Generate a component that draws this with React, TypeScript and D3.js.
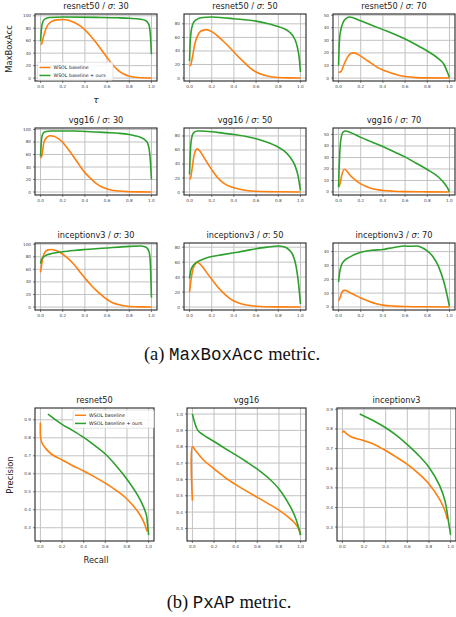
import React from "react";
import * as d3 from "d3";

type P = [number, number];

// ---- MaxBoxAcc data (tau, acc) ----
const r50_30_base: P[] = [[0,54],[0.01,55],[0.02,62],[0.05,80],[0.1,91],[0.15,93.5],[0.2,94],[0.25,93],[0.3,89.5],[0.35,84.5],[0.4,77.5],[0.45,68],[0.5,57],[0.55,45],[0.6,33],[0.65,21.5],[0.7,12.5],[0.75,6.5],[0.8,3],[0.85,1.2],[0.9,0.5],[1,0.2]];
const r50_30_ours: P[] = [[0,59],[0.005,72],[0.01,82],[0.02,90],[0.04,95],[0.08,97.3],[0.2,98],[0.5,97.5],[0.7,96.8],[0.8,96],[0.9,94.5],[0.95,92],[0.97,88],[0.98,84],[0.99,70],[1,38]];
const r50_50_base: P[] = [[0,18],[0.01,19],[0.02,26],[0.05,52],[0.08,65],[0.1,69],[0.15,71.5],[0.2,68.5],[0.25,62.5],[0.3,55],[0.35,47],[0.4,38.5],[0.45,30],[0.5,22],[0.55,14.5],[0.6,9],[0.65,5.5],[0.7,3],[0.8,0.8],[0.9,0.3],[1,0.2]];
const r50_50_ours: P[] = [[0,25],[0.005,50],[0.01,62],[0.02,74],[0.04,83],[0.07,87],[0.1,89],[0.2,90],[0.3,89],[0.4,87.5],[0.5,86],[0.6,84],[0.7,80.5],[0.8,76],[0.85,73],[0.9,68],[0.95,57],[0.97,47],[0.99,28],[1,9]];
const r50_70_base: P[] = [[0,4.5],[0.02,5],[0.05,11],[0.08,16.5],[0.11,19.5],[0.13,20],[0.16,19.5],[0.2,17.5],[0.25,14.5],[0.3,11.5],[0.35,8.5],[0.4,6.5],[0.45,4.8],[0.5,3.3],[0.55,2],[0.6,1.2],[0.7,0.4],[0.8,0.2],[1,0.1]];
const r50_70_ours: P[] = [[0,10],[0.005,25],[0.01,32],[0.02,38],[0.04,44],[0.07,47.5],[0.1,48.5],[0.13,48],[0.2,45.5],[0.3,42],[0.4,38.5],[0.5,35],[0.6,31],[0.7,26.5],[0.8,21.5],[0.9,15.5],[0.95,11],[0.98,5],[1,0.5]];
const vgg_30_base: P[] = [[0,54],[0.01,57],[0.03,79],[0.06,88],[0.09,90],[0.12,89],[0.15,86.5],[0.2,79.5],[0.25,68],[0.3,56],[0.35,43],[0.4,31],[0.45,22],[0.5,14],[0.55,8.5],[0.6,5],[0.7,1.5],[0.8,0.5],[0.9,0.2],[1,0.1]];
const vgg_30_ours: P[] = [[0,57],[0.005,75],[0.01,86],[0.02,93],[0.04,96.5],[0.1,97.5],[0.3,97.5],[0.5,96],[0.6,95],[0.7,94],[0.8,92],[0.85,90],[0.9,87.5],[0.95,82],[0.97,76],[0.98,68],[0.99,50],[1,20]];
const vgg_50_base: P[] = [[0,18],[0.01,20],[0.02,30],[0.04,52],[0.06,60.5],[0.07,61.5],[0.09,59],[0.12,52],[0.15,44],[0.2,32],[0.25,21],[0.3,13.5],[0.35,9],[0.4,6],[0.5,2.5],[0.6,1],[0.8,0.3],[1,0.1]];
const vgg_50_ours: P[] = [[0,25],[0.005,50],[0.01,65],[0.02,78],[0.04,85],[0.07,87],[0.1,87],[0.2,86],[0.3,84],[0.4,82],[0.5,79.5],[0.6,76],[0.7,71],[0.8,64],[0.85,59],[0.9,51],[0.95,38],[0.98,22],[1,2]];
const vgg_70_base: P[] = [[0,4.5],[0.01,6],[0.03,15],[0.05,19.5],[0.06,19.5],[0.08,17.5],[0.1,15],[0.15,10.5],[0.2,7],[0.25,4.8],[0.3,3],[0.35,2],[0.4,1.2],[0.5,0.6],[0.6,0.3],[0.8,0.1],[1,0]];
const vgg_70_ours: P[] = [[0,4],[0.005,20],[0.01,32],[0.02,45],[0.04,52],[0.06,53],[0.1,52],[0.2,47.5],[0.3,43.5],[0.4,39.5],[0.5,35],[0.6,30.5],[0.7,25],[0.8,19.5],[0.9,13],[0.95,8],[0.98,4],[1,0.3]];
const inc_30_base: P[] = [[0,55],[0.01,68],[0.03,84],[0.06,90.5],[0.1,91.5],[0.15,89],[0.2,84],[0.25,77],[0.3,68],[0.35,57],[0.4,46],[0.45,36],[0.5,27],[0.55,19],[0.6,12],[0.65,7],[0.7,4],[0.75,2],[0.8,1],[0.9,0.3],[1,0.2]];
const inc_30_ours: P[] = [[0,69],[0.01,76],[0.03,80],[0.06,83],[0.1,85],[0.2,88],[0.3,90],[0.4,91.5],[0.5,92.8],[0.6,94],[0.7,95.3],[0.8,96.5],[0.9,97],[0.94,96],[0.96,94],[0.98,87],[0.99,70],[1,15]];
const inc_50_base: P[] = [[0,20],[0.01,33],[0.03,50],[0.05,57],[0.07,59.5],[0.09,58],[0.12,53],[0.15,47],[0.2,37],[0.25,27.5],[0.3,19.5],[0.35,13],[0.4,8],[0.45,5],[0.5,3],[0.6,1],[0.7,0.4],[0.8,0.2],[1,0.1]];
const inc_50_ours: P[] = [[0,38],[0.01,48],[0.03,55],[0.06,59.5],[0.1,62.5],[0.15,65.5],[0.2,67.5],[0.3,70],[0.4,72.5],[0.5,75],[0.6,78],[0.7,80],[0.8,81.5],[0.85,80.5],[0.9,76],[0.93,70],[0.96,55],[0.98,35],[1,4]];
const inc_70_base: P[] = [[0,4.5],[0.01,6],[0.03,10.5],[0.05,12],[0.07,11.8],[0.1,10.5],[0.15,8.5],[0.2,6.5],[0.25,4.8],[0.3,3.3],[0.35,2.2],[0.4,1.3],[0.5,0.6],[0.6,0.3],[0.8,0.1],[1,0]];
const inc_70_ours: P[] = [[0,18],[0.01,25],[0.03,31],[0.06,34],[0.1,36],[0.15,38],[0.2,39.5],[0.3,41],[0.4,41.5],[0.45,42.3],[0.5,43],[0.6,44],[0.65,43.8],[0.7,44],[0.75,43],[0.8,40.5],[0.85,36.5],[0.9,29.5],[0.95,18],[0.98,8],[1,0.5]];

// ---- PxAP data (recall, precision) ----
const px_r50_base: P[] = [[0,0.885],[0,0.82],[0.005,0.79],[0.02,0.765],[0.05,0.74],[0.1,0.71],[0.2,0.677],[0.3,0.645],[0.4,0.615],[0.5,0.583],[0.6,0.548],[0.7,0.508],[0.8,0.46],[0.9,0.39],[0.95,0.34],[0.975,0.3],[0.985,0.28]];
const px_r50_ours: P[] = [[0.07,0.932],[0.2,0.875],[0.3,0.84],[0.4,0.802],[0.5,0.758],[0.6,0.71],[0.7,0.645],[0.8,0.57],[0.9,0.48],[0.95,0.42],[0.98,0.37],[0.99,0.32],[1.0,0.26]];
const px_vgg_base: P[] = [[0,0.47],[0,0.8],[0.03,0.775],[0.1,0.72],[0.2,0.665],[0.3,0.612],[0.4,0.568],[0.5,0.528],[0.6,0.49],[0.7,0.452],[0.8,0.412],[0.9,0.362],[0.95,0.33],[0.98,0.3],[1.0,0.26]];
const px_vgg_ours: P[] = [[0,1.0],[0.05,0.9],[0.1,0.873],[0.2,0.832],[0.3,0.79],[0.4,0.75],[0.5,0.708],[0.6,0.663],[0.7,0.61],[0.8,0.542],[0.9,0.44],[0.95,0.37],[0.98,0.31],[1.0,0.26]];
const px_inc_base: P[] = [[0,0.78],[0.01,0.79],[0.03,0.78],[0.08,0.76],[0.2,0.74],[0.3,0.72],[0.4,0.69],[0.5,0.656],[0.6,0.62],[0.7,0.575],[0.8,0.52],[0.9,0.44],[0.95,0.38],[0.97,0.34]];
const px_inc_ours: P[] = [[0.16,0.876],[0.3,0.838],[0.4,0.806],[0.5,0.767],[0.6,0.72],[0.7,0.668],[0.8,0.605],[0.9,0.51],[0.95,0.43],[0.98,0.33],[1.0,0.26]];

// ---- tick labels / categories ----
const X_TICKS = [0, 0.2, 0.4, 0.6, 0.8, 1.0];
const ACC_TICKS_100 = [0, 20, 40, 60, 80, 100];
const ACC_TICKS_80 = [0, 20, 40, 60, 80];
const ACC_TICKS_50 = [0, 10, 20, 30, 40, 50];
const ACC_TICKS_40 = [0, 10, 20, 30, 40];
const PX_TICKS_09 = [0.3, 0.4, 0.5, 0.6, 0.7, 0.8, 0.9];
const PX_TICKS_10 = [0.3, 0.4, 0.5, 0.6, 0.7, 0.8, 0.9, 1.0];
const MODELS = ["resnet50", "vgg16", "inceptionv3"];
const SIGMAS = [30, 50, 70];
const SERIES_NAMES = ["WSOL baseline", "WSOL baseline + ours"];
const COLORS = ["#ff7f0e", "#2ca02c"];

const ACC_DATA: P[][][] = [
  [r50_30_base, r50_30_ours], [r50_50_base, r50_50_ours], [r50_70_base, r50_70_ours],
  [vgg_30_base, vgg_30_ours], [vgg_50_base, vgg_50_ours], [vgg_70_base, vgg_70_ours],
  [inc_30_base, inc_30_ours], [inc_50_base, inc_50_ours], [inc_70_base, inc_70_ours],
];
const ACC_TICKS = [
  ACC_TICKS_100, ACC_TICKS_80, ACC_TICKS_50,
  ACC_TICKS_100, ACC_TICKS_80, ACC_TICKS_50,
  ACC_TICKS_100, ACC_TICKS_80, ACC_TICKS_40,
];
const PX_DATA: P[][][] = [[px_r50_base, px_r50_ours], [px_vgg_base, px_vgg_ours], [px_inc_base, px_inc_ours]];
const PX_TICKS = [PX_TICKS_09, PX_TICKS_10, PX_TICKS_09];

const FONT = "DejaVu Sans";
const SERIF = "'Liberation Serif', 'Times New Roman', serif";
const MONO = "'Liberation Mono', 'Courier New', monospace";

function padded(vals: number[]): [number, number] {
  const [a, b] = d3.extent(vals) as [number, number];
  const m = (b - a) * 0.05;
  return [a - m, b + m];
}

type PanelProps = {
  x: number; y: number; w: number; h: number;
  series: P[][]; yTicks: number[]; yFmt: (v: number) => string;
  title: React.ReactNode; curve: d3.CurveFactory;
  legend?: { x: number; y: number; w: number; fs: number };
};

function Panel({ x, y, w, h, series, yTicks, yFmt, title, curve, legend }: PanelProps) {
  const all = series.flat();
  const xs = d3.scaleLinear().domain(padded(all.map((d) => d[0]))).range([x, x + w]);
  const ys = d3.scaleLinear().domain(padded(all.map((d) => d[1]))).range([y + h, y]);
  const line = d3.line<P>().x((d) => xs(d[0])).y((d) => ys(d[1])).curve(curve);
  const clipId = `clip-${x}-${y}`;
  return (
    <g>
      <defs>
        <clipPath id={clipId}><rect x={x} y={y} width={w} height={h} /></clipPath>
      </defs>
      {X_TICKS.map((t) => (
        <line key={"gx" + t} x1={xs(t)} x2={xs(t)} y1={y} y2={y + h} stroke="#c2c2c2" strokeWidth={1} />
      ))}
      {yTicks.map((t) => (
        <line key={"gy" + t} x1={x} x2={x + w} y1={ys(t)} y2={ys(t)} stroke="#c2c2c2" strokeWidth={1} />
      ))}
      <g clipPath={`url(#${clipId})`}>
        {series.map((s, i) => (
          <path key={i} d={line(s) || ""} fill="none" stroke={COLORS[i]} strokeWidth={1.6} strokeLinejoin="round" />
        ))}
      </g>
      <rect x={x} y={y} width={w} height={h} fill="none" stroke="#262626" strokeWidth={1.1} />
      {X_TICKS.map((t) => (
        <g key={"tx" + t}>
          <line x1={xs(t)} x2={xs(t)} y1={y + h} y2={y + h + 2} stroke="#333" strokeWidth={0.6} />
          <text x={xs(t)} y={y + h + 7} fontSize={4.2} fill="#444" textAnchor="middle" fontFamily={FONT}>{t.toFixed(1)}</text>
        </g>
      ))}
      {yTicks.map((t) => (
        <g key={"ty" + t}>
          <line x1={x - 2} x2={x} y1={ys(t)} y2={ys(t)} stroke="#333" strokeWidth={0.6} />
          <text x={x - 4} y={ys(t) + 1.5} fontSize={4.2} fill="#444" textAnchor="end" fontFamily={FONT}>{yFmt(t)}</text>
        </g>
      ))}
      <text x={x + w / 2} y={y - 5} fontSize={8.2} fill="#222" textAnchor="middle" fontFamily={FONT}>{title}</text>
      {legend && (
        <g>
          <rect x={legend.x} y={legend.y} width={legend.w} height={legend.fs * 3.8} rx={1.5} fill="white" fillOpacity={0.85} stroke="#d0d0d0" strokeWidth={0.6} />
          {SERIES_NAMES.map((n, i) => {
            const ly = legend.y + legend.fs * (1.1 + i * 1.7);
            return (
              <g key={n}>
                <line x1={legend.x + 2} x2={legend.x + 13} y1={ly} y2={ly} stroke={COLORS[i]} strokeWidth={1.5} />
                <text x={legend.x + 16} y={ly + legend.fs * 0.36} fontSize={legend.fs} fill="#222" fontFamily={FONT}>{n}</text>
              </g>
            );
          })}
        </g>
      )}
    </g>
  );
}

export default function App() {
  const colX = [35, 184, 333];
  const rowY = [14, 128, 243];
  const pw = 122, ph = 67;
  const pxX = [35, 187, 337];
  const pxY = 408, pxW = 119, pxH = 133;
  return (
    <svg width={456} height={617} style={{ position: "absolute", left: 0, top: 0, background: "white" }}>
      {MODELS.map((m, r) =>
        SIGMAS.map((s, c) => {
          const k = r * 3 + c;
          return (
            <Panel
              key={m + s}
              x={colX[c]} y={rowY[r]} w={pw} h={ph}
              series={ACC_DATA[k]}
              yTicks={ACC_TICKS[k]}
              yFmt={(v) => String(v)}
              curve={d3.curveMonotoneX}
              title={<>{m} / <tspan fontStyle="italic">σ</tspan>: {s}</>}
              legend={k === 0 ? { x: 37.5, y: 62.3, w: 75.5, fs: 4.7 } : undefined}
            />
          );
        })
      )}
      <text transform="translate(12,49) rotate(-90)" fontSize={8.4} fill="#222" textAnchor="middle" fontFamily={FONT}>MaxBoxAcc</text>
      <text x={96} y={103} fontSize={9} fill="#222" textAnchor="middle" fontFamily={FONT} fontStyle="italic">τ</text>
      <text x={232} y={360} fontSize={18.5} fill="#111" textAnchor="middle" fontFamily={SERIF}>
        (a) <tspan fontFamily={MONO} fontSize={17.5}>MaxBoxAcc</tspan> metric.
      </text>

      {MODELS.map((m, c) => (
        <Panel
          key={"px" + m}
          x={pxX[c]} y={pxY} w={pxW} h={pxH}
          series={PX_DATA[c]}
          yTicks={PX_TICKS[c]}
          yFmt={(v) => v.toFixed(1)}
          curve={d3.curveCatmullRom.alpha(0.5)}
          title={m}
          legend={c === 0 ? { x: 73, y: 410, w: 81, fs: 4.8 } : undefined}
        />
      ))}
      <text transform="translate(13,475) rotate(-90)" fontSize={8.4} fill="#222" textAnchor="middle" fontFamily={FONT}>Precision</text>
      <text x={96} y={563} fontSize={8.4} fill="#222" textAnchor="middle" fontFamily={FONT}>Recall</text>
      <text x={229} y={608} fontSize={18.5} fill="#111" textAnchor="middle" fontFamily={SERIF}>
        (b) <tspan fontFamily={MONO} fontSize={17.5}>PxAP</tspan> metric.
      </text>
    </svg>
  );
}
